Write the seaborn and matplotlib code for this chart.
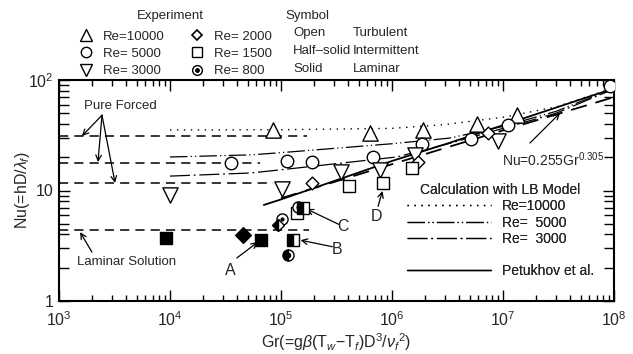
import matplotlib
matplotlib.use("Agg")
import matplotlib.pyplot as plt
from matplotlib.lines import Line2D
import seaborn as sns

# ---- experiment (Gr, Nu) ----
re10000_gr = [8.5e4, 6.3e5, 1.9e6, 5.8e6, 1.34e7]
re10000_nu = [35.3, 33.0, 35.0, 40.0, 48.0]

re5000_gr = [3.55e4, 1.13e5, 1.9e5, 6.7e5, 1.85e6, 5.1e6, 1.1e7, 9.2e7]
re5000_nu = [17.7, 18.5, 18.1, 20.1, 26.5, 29.4, 39.2, 88.0]

re3000_gr = [1.0e4, 1.02e5, 3.5e5, 7.8e5, 1.6e6, 9.0e6]
re3000_nu = [9.1, 10.3, 14.7, 15.3, 21.0, 28.1]

re2000_open_gr = [1.9e5, 1.7e6, 7.3e6]
re2000_open_nu = [11.7, 18.1, 33.0]
re2000_solid_gr = [4.55e4]
re2000_solid_nu = [3.95]
re2000_half_gr = [9.4e4]
re2000_half_nu = [4.9]

re1500_open_gr = [1.39e5, 4.1e5, 8.3e5, 1.5e6]
re1500_open_nu = [6.2, 11.0, 11.7, 16.0]
re1500_solid_gr = [9.2e3, 6.6e4]
re1500_solid_nu = [3.7, 3.57]
re1500_half_gr = [1.28e5, 1.58e5]
re1500_half_nu = [3.57, 6.9]

re800_gr = [1.02e5, 1.42e5]
re800_nu = [5.5, 7.1]
re800_half_gr = [1.16e5]
re800_half_nu = [2.6]

# ---- calculation curves ----
lb10000_gr = [1e4, 1e5, 1e6, 3e6, 1e7, 3e7, 1e8]
lb10000_nu = [35.3, 35.5, 36.5, 39.5, 46.0, 57.0, 85.0]
lb5000_gr = [1e4, 5.3e4, 1e5, 1e6, 3.3e6, 1e7, 3e7, 1e8]
lb5000_nu = [20.1, 21.0, 22.0, 26.5, 29.8, 38.0, 52.0, 84.0]
lb3000_gr = [1e4, 5.3e4, 1e5, 1.1e6, 3e6, 1e7, 3e7, 1e8]
lb3000_nu = [13.5, 14.4, 15.4, 20.1, 26.0, 36.5, 50.0, 83.0]
petukhov_gr = [7e4, 1e5, 1e6, 3.3e6, 1e7, 1e8]
petukhov_nu = [7.4, 8.3, 18.5, 27.0, 39.0, 84.0]
corr_gr = [1e5, 1e6, 1e7, 1e8]
corr_nu = [8.5, 17.3, 35.0, 70.0]

# pure forced / laminar levels and where the dashed lines stop
forced_nu = [31.1, 17.7, 11.7]
forced_end = [1.7e5, 6.5e4, 8.5e4]
laminar_nu = 4.36
laminar_end = 1.8e5

exp_labels = ["Re=10000", "Re= 5000", "Re= 3000", "Re= 2000", "Re= 1500", "Re= 800"]
calc_labels = ["Re=10000", "Re=  5000", "Re=  3000", "", "Petukhov et al."]
symbol_kind = ["Open", "Half\u2013solid", "Solid"]
symbol_regime = ["Turbulent", "Intermittent", "Laminar"]
y_ticks = [1, 10, 100]
y_ticklabels = ["1", "10", "$10^2$"]
x_ticks = [1e3, 1e4, 1e5, 1e6, 1e7, 1e8]
x_ticklabels = ["$10^3$", "$10^4$", "$10^5$", "$10^6$", "$10^7$", "$10^8$"]

sns.set_style("ticks")
plt.rcParams["font.family"] = ["Liberation Sans", "DejaVu Sans"]
plt.rcParams["mathtext.fontset"] = "custom"
plt.rcParams["mathtext.rm"] = "Liberation Sans"
plt.rcParams["mathtext.it"] = "Liberation Sans:italic"

fig = plt.figure(figsize=(6.33, 3.54), dpi=100)
ax = fig.add_axes([59 / 633, 1 - 301 / 354, 555 / 633, 221 / 354])
ax.set(xscale="log", yscale="log")

K = "black"
ms = 9  # base marker size (points)

# curves
sns.lineplot(x=lb10000_gr, y=lb10000_nu, ax=ax, color=K, lw=1.0, linestyle=(0, (1, 4)))
sns.lineplot(x=lb5000_gr, y=lb5000_nu, ax=ax, color=K, lw=0.9, linestyle=(0, (14, 2.5, 1, 2.5, 1, 2.5)))
sns.lineplot(x=lb3000_gr, y=lb3000_nu, ax=ax, color=K, lw=0.9, linestyle=(0, (16, 3, 1.5, 3)))
sns.lineplot(x=petukhov_gr, y=petukhov_nu, ax=ax, color=K, lw=1.3)
sns.lineplot(x=corr_gr, y=corr_nu, ax=ax, color=K, lw=1.3, linestyle=(0, (9, 5)))

for nu, end in zip(forced_nu, forced_end):
    sns.lineplot(x=[1e3, end], y=[nu, nu], ax=ax, color=K, lw=1.1, linestyle=(0, (6, 4)))
sns.lineplot(x=[1e3, laminar_end], y=[laminar_nu, laminar_nu], ax=ax, color=K, lw=1.1,
             linestyle=(0, (6, 4)))

# experiment points
open_kw = dict(ax=ax, facecolor="white", edgecolor=K, linewidth=1.0, zorder=5)
sns.scatterplot(x=re10000_gr, y=re10000_nu, marker="^", s=(ms + 2) ** 2, **open_kw)
sns.scatterplot(x=re5000_gr, y=re5000_nu, marker="o", s=ms ** 2, **open_kw)
sns.scatterplot(x=re3000_gr, y=re3000_nu, marker="v", s=(ms + 2) ** 2, **open_kw)
sns.scatterplot(x=re2000_open_gr, y=re2000_open_nu, marker="D", s=(ms - 2.5) ** 2, **open_kw)
sns.scatterplot(x=re1500_open_gr, y=re1500_open_nu, marker="s", s=(ms - 1) ** 2, **open_kw)
sns.scatterplot(x=re800_gr, y=re800_nu, marker="o", s=(ms - 1) ** 2, **open_kw)
sns.scatterplot(x=re800_gr, y=re800_nu, ax=ax, marker="o", s=9, color=K, linewidth=0, zorder=6)

solid_kw = dict(ax=ax, color=K, edgecolor=K, linewidth=1.0, zorder=5)
sns.scatterplot(x=re2000_solid_gr, y=re2000_solid_nu, marker="D", s=(ms - 1) ** 2, **solid_kw)
sns.scatterplot(x=re1500_solid_gr, y=re1500_solid_nu, marker="s", s=(ms - 1) ** 2, **solid_kw)

half_kw = dict(color=K, markerfacecoloralt="white", markeredgecolor=K, fillstyle="left",
               linestyle="none", mew=1.0, zorder=6)
ax.plot(re2000_half_gr, re2000_half_nu, marker="D", ms=ms - 2.5, **half_kw)
ax.plot(re1500_half_gr, re1500_half_nu, marker="s", ms=ms - 1, **half_kw)
ax.plot(re800_half_gr, re800_half_nu, marker="o", ms=ms - 1, **half_kw)
ax.plot(re800_half_gr, re800_half_nu, marker="o", ms=3, color=K, linestyle="none", zorder=7)

# annotations
arrow = dict(arrowstyle="->", color=K, lw=0.9, shrinkA=0, shrinkB=0)
ax.text(3550, 58, "Pure Forced", ha="center", va="center", fontsize=9.5)
for tip in [(1610, 31.1), (2245, 18.1), (3200, 11.7)]:
    ax.annotate("", xy=tip, xytext=(2440, 48), arrowprops=arrow)
ax.text(1450, 2.25, "Laminar Solution", ha="left", va="center", fontsize=9.5)
ax.annotate("", xy=(1550, 4.2), xytext=(1980, 2.77), arrowprops=arrow)
ax.text(3.5e4, 1.9, "A", ha="center", va="center", fontsize=11.5)
ax.annotate("", xy=(6.2e4, 3.42), xytext=(4e4, 2.45), arrowprops=arrow)
ax.text(3.2e5, 2.95, "B", ha="center", va="center", fontsize=11.5)
ax.annotate("", xy=(1.5e5, 3.55), xytext=(2.9e5, 3.1), arrowprops=arrow)
ax.text(3.6e5, 4.75, "C", ha="center", va="center", fontsize=11.5)
ax.annotate("", xy=(1.7e5, 6.8), xytext=(3.3e5, 4.95), arrowprops=arrow)
ax.text(7.3e5, 5.85, "D", ha="center", va="center", fontsize=11.5)
ax.annotate("", xy=(8.2e5, 9.9), xytext=(7.5e5, 7.2), arrowprops=arrow)
ax.text(9.8e6, 18.9, r"Nu=0.255Gr$^{0.305}$", ha="left", va="center", fontsize=10)
ax.annotate("", xy=(3.27e7, 50.3), xytext=(1.75e7, 26.9), arrowprops=arrow)

# in-axes legend for calculations
calc_handles = [
    Line2D([], [], color=K, lw=1.0, linestyle=(0, (1, 4))),
    Line2D([], [], color=K, lw=0.9, linestyle=(0, (14, 2.5, 1, 2.5, 1, 2.5))),
    Line2D([], [], color=K, lw=0.9, linestyle=(0, (16, 3, 1.5, 3))),
    Line2D([], [], color="none"),
    Line2D([], [], color=K, lw=1.0),
]
leg = ax.legend(calc_handles, calc_labels, title="Calculation with LB Model",
                loc="upper left", bbox_to_anchor=(0.615, 0.565), frameon=False,
                fontsize=10, title_fontsize=10, handlelength=6.0, handletextpad=0.8,
                labelspacing=0.16, borderpad=0)
ax.add_artist(leg)

# axes styling
ax.set_xlim(1e3, 1e8)
ax.set_ylim(1, 100)
ax.set_xticks(x_ticks)
ax.set_xticklabels(x_ticklabels, fontsize=11.5)
ax.set_yticks(y_ticks)
ax.set_yticklabels(y_ticklabels, fontsize=11.5)
ax.tick_params(which="both", direction="in", top=True, right=True, width=1.0, color=K)
ax.tick_params(which="major", length=8, pad=4)
ax.tick_params(axis="x", which="major", pad=7)
ax.tick_params(which="minor", length=4.5)
ax.tick_params(axis="y", which="minor", length=7)
for sp in ax.spines.values():
    sp.set_linewidth(1.5)
    sp.set_color(K)

ax.set_xlabel(r"Gr(=g$\beta$(T$_w$$-$T$_f$)D$^3$/$\nu_f$$^2$)", fontsize=11.5, va="center")
ax.xaxis.set_label_coords(0.5, -0.185)
ax.set_ylabel(r"Nu(=hD/$\lambda_f$)", fontsize=11.5, va="center")
ax.yaxis.set_label_coords(-0.066, 0.5)

# experiment legend above the axes
exp_handles = [
    Line2D([], [], marker="^", ms=ms, mfc="white", mec=K, mew=1.0, linestyle="none"),
    Line2D([], [], marker="o", ms=ms - 1.5, mfc="white", mec=K, mew=1.0, linestyle="none"),
    Line2D([], [], marker="v", ms=ms, mfc="white", mec=K, mew=1.0, linestyle="none"),
    Line2D([], [], marker="D", ms=ms - 3.5, mfc="white", mec=K, mew=1.2, linestyle="none"),
    Line2D([], [], marker="s", ms=ms - 2, mfc="white", mec=K, mew=1.0, linestyle="none"),
    (Line2D([], [], marker="o", ms=ms - 2, mfc="white", mec=K, mew=1.0, linestyle="none"),
     Line2D([], [], marker="o", ms=2.5, color=K, linestyle="none")),
]
fig.legend(exp_handles, exp_labels, ncol=2, loc="upper left",
           bbox_to_anchor=(73 / 633, 1 - 24 / 354), frameon=False, fontsize=9.5,
           handlelength=1.0, handletextpad=0.8, columnspacing=1.9, labelspacing=0.38,
           borderpad=0)

fig.text(170 / 633, 1 - 16 / 354, "Experiment", ha="center", va="center", fontsize=9.5)
fig.text(307 / 633, 1 - 16 / 354, "Symbol", ha="center", va="center", fontsize=9.5)
for i, (kind, regime) in enumerate(zip(symbol_kind, symbol_regime)):
    yy = 1 - (33 + 18 * i) / 354
    fig.text(293 / 633, yy, kind, ha="left", va="center", fontsize=9.5)
    fig.text(353 / 633, yy, regime, ha="left", va="center", fontsize=9.5)

fig.savefig("out.png", dpi=100)
